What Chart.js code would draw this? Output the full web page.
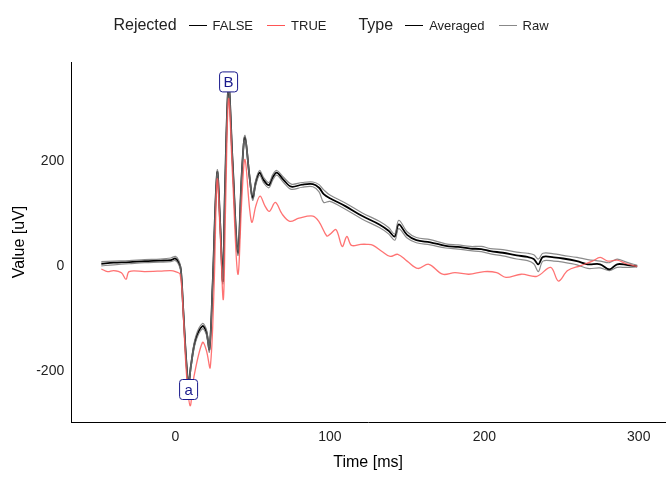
<!DOCTYPE html>
<html>
<head>
<meta charset="utf-8">
<script src="https://cdn.jsdelivr.net/npm/chart.js@4"></script>
<style>
  body { margin: 0; background: #fff; font-family: "Liberation Sans", Arial, sans-serif; }
  #wrap { position: relative; width: 672px; height: 480px; }
  #legend { position: absolute; top: 16px; left: 0; width: 672px; display: flex; justify-content: center; align-items: center; font-size: 13px; color: #222; }
  #legend .title { font-size: 16px; margin: 0 8px 0 0; }
  #legend .key { display: inline-block; width: 18px; height: 0; border-top: 1.5px solid; margin: 0 6px 0 4px; vertical-align: middle; }
  #legend .item { margin-right: 10px; }
  #legend .gap { width: 22px; }
</style>
</head>
<body>
<div id="wrap">
  <canvas id="erp" width="672" height="480"></canvas>
  <div id="legend">
    <span class="title">Rejected</span>
    <span class="key" style="border-color:#000"></span><span class="item">FALSE</span>
    <span class="key" style="border-color:#f55"></span><span class="item">TRUE</span>
    <span class="gap"></span>
    <span class="title">Type</span>
    <span class="key" style="border-color:#000"></span><span class="item">Averaged</span>
    <span class="key" style="border-color:#888"></span><span class="item">Raw</span>
  </div>
</div>
<script>
// averaged (not rejected)
const averaged = [
  [-48,5],[-40,7],[-30,8],[-20,10],[-10,11],[-3,12],[0,15],[2,8],[3.5,-6],[5,-80],[7,-180],[8.5,-225],[10,-190],
  [13,-140],[17.5,-114],[20,-125],[22,-158],[24,-40],[27,179],[29,80],[30.7,-28],[32,140],[34.4,345],
  [37,200],[40.4,26],[43,180],[45,246],[48,170],[50,131],[52,160],[54.5,179],[57,165],[60.5,155],[63,170],
  [65.6,179],[70,165],[75,152],[82,156],[89,157],[93,150],[96,138],[100,130],[110,115],[121,96],[132,80],
  [138,68],[142,57],[144.6,80],[150,60],[156,50],[165,46],[175,39],[183,37],[191,34],[198,33],[204,29],
  [212,26],[221,21],[228,18],[232,14],[235,4],[238,18],[245,17],[251,15],[260,10],[267,4],[275,4],[281,-6],
  [286,4],[292,3],[299,0]
];
// raw trials (not rejected)
const raw1 = [
  [-48,9],[-40,10],[-30,11],[-20,13],[-10,14],[-3,16],[0,19],[2,12],[3.5,-3],[5,-75],[7,-176],[8.5,-220],[10,-186],
  [13,-135],[17.5,-109],[20,-120],[22,-153],[24,-35],[27,183],[29,85],[30.7,-23],[32,145],[34.4,349],
  [37,205],[40.4,31],[43,185],[45,250],[48,175],[50,136],[52,165],[54.5,183],[57,170],[60.5,160],[63,175],
  [65.6,183],[70,170],[75,157],[82,160],[89,161],[93,156],[96,146],[100,136],[110,121],[121,102],[132,86],
  [138,74],[142,62],[144.6,88],[150,66],[156,55],[165,51],[175,43],[183,41],[191,38],[198,38],[204,34],
  [212,32],[221,27],[228,25],[232,22],[235,14],[238,25],[245,24],[251,21],[260,17],[267,13],[275,10],[281,7],
  [286,14],[292,8],[299,2]
];
const raw2 = [
  [-48,1],[-40,3],[-30,5],[-20,7],[-10,8],[-3,9],[0,11],[2,4],[3.5,-10],[5,-85],[7,-184],[8.5,-229],[10,-195],
  [13,-145],[17.5,-119],[20,-130],[22,-163],[24,-45],[27,174],[29,75],[30.7,-33],[32,135],[34.4,340],
  [37,195],[40.4,21],[43,175],[45,241],[48,165],[50,126],[52,155],[54.5,174],[57,160],[60.5,150],[63,165],
  [65.6,174],[70,160],[75,147],[82,151],[89,152],[93,142],[96,122],[100,124],[110,109],[121,90],[132,74],
  [138,62],[142,50],[144.6,72],[150,54],[156,45],[165,41],[175,35],[183,33],[191,30],[198,28],[204,24],
  [212,20],[221,14],[228,11],[232,5],[235,-10],[238,10],[245,10],[251,8],[260,3],[267,-4],[275,-3],[281,-8],
  [286,-2],[292,-2],[299,-1]
];
// rejected trial
const rejected = [
  [-48,-5],[-44,-10],[-40,-8],[-35,-12],[-32,-25],[-30,-10],[-20,-10],[-10,-9],[-3,-8],[0,-10],[3,-15],
  [5,-90],[7,-200],[9.5,-266],[12,-210],[17.5,-145],[20,-160],[22.5,-193],[25,-40],[27,166],[29,60],
  [31,-63],[32.5,120],[34.4,320],[37,170],[40.4,-15],[43,130],[45,204],[48,110],[49.6,84],[52,115],
  [54.8,134],[58,115],[60.8,105],[64.7,122],[69,100],[74,86],[80,92],[89,96],[93,85],[98,58],[100,61],
  [104,70],[108,38],[111,57],[114,40],[120,42],[124,42],[128,40],[134,28],[139,19],[144,23],[150,10],
  [157,-4],[164,4],[173,-15],[181,-12],[190,-15],[200,-10],[208,-12],[214,-21],[224,-15],[234,-19],
  [243,-2],[248,-28],[254,-8],[262,1],[270,10],[275,17],[280,10],[286,12],[292,5],[299,0]
];
const toXY = arr => arr.map(p => ({ x: p[0], y: p[1] }));

const peakLabels = [
  { text: 'B', x: 34.4, y: 352 },
  { text: 'a', x: 8.5, y: -235 }
];

const labelPlugin = {
  id: 'peakLabels',
  afterDatasetsDraw(chart) {
    const ctx = chart.ctx, xs = chart.scales.x, ys = chart.scales.y;
    ctx.save();
    ctx.font = '15px "Liberation Sans", Arial, sans-serif';
    ctx.textAlign = 'center';
    ctx.textBaseline = 'middle';
    peakLabels.forEach(l => {
      const px = xs.getPixelForValue(l.x), py = ys.getPixelForValue(l.y);
      const w = 18, h = 20;
      ctx.fillStyle = '#fff';
      ctx.strokeStyle = '#1a1a8c';
      ctx.lineWidth = 1;
      ctx.beginPath();
      ctx.roundRect(px - w / 2, py - h / 2, w, h, 3);
      ctx.fill();
      ctx.stroke();
      ctx.fillStyle = '#1a1a8c';
      ctx.fillText(l.text, px, py + 1);
    });
    ctx.restore();
  }
};

const lineDs = (data, color, width) => ({
  data: toXY(data), borderColor: color, borderWidth: width, pointRadius: 0, tension: 0.35, fill: false
});

new Chart(document.getElementById('erp'), {
  type: 'line',
  data: {
    datasets: [
      lineDs(rejected, 'rgba(255,90,90,0.85)', 1.3),
      lineDs(raw1, 'rgba(110,110,110,0.8)', 1.2),
      lineDs(raw2, 'rgba(110,110,110,0.8)', 1.2),
      lineDs(averaged, '#000', 1.8)
    ]
  },
  options: {
    responsive: false,
    animation: false,
    layout: { padding: { top: 62, right: 7, left: 6, bottom: 4 } },
    plugins: { legend: { display: false }, tooltip: { enabled: false } },
    scales: {
      x: {
        type: 'linear', min: -67.5, max: 317,
        grid: { display: false, drawTicks: true, tickLength: 4, tickColor: '#333' },
        border: { color: '#000', width: 1 },
        afterBuildTicks: s => { s.ticks = [0, 100, 200, 300].map(v => ({ value: v })); },
        ticks: { color: '#222', font: { size: 14 } },
        title: { display: true, text: 'Time [ms]', color: '#000', font: { size: 16 } }
      },
      y: {
        min: -297, max: 390,
        grid: { display: false, drawTicks: true, tickLength: 4, tickColor: '#333' },
        border: { color: '#000', width: 1 },
        afterBuildTicks: s => { s.ticks = [-200, 0, 200].map(v => ({ value: v })); },
        ticks: { color: '#222', font: { size: 14 } },
        title: { display: true, text: 'Value [uV]', color: '#000', font: { size: 16 } }
      }
    }
  },
  plugins: [labelPlugin]
});
</script>
</body>
</html>
